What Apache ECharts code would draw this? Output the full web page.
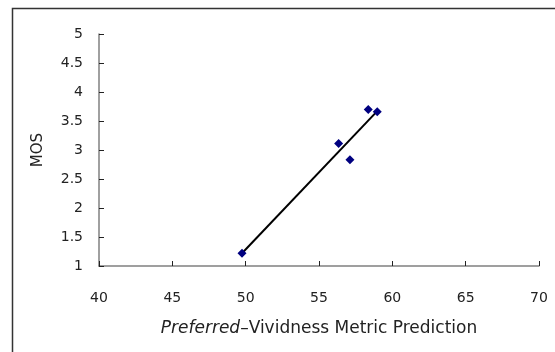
<!DOCTYPE html>
<html>
<head>
<meta charset="utf-8">
<script src="https://cdn.jsdelivr.net/npm/echarts@6/dist/echarts.min.js"></script>
<style>
  html, body { margin: 0; padding: 0; background: #fff; }
  #chart { width: 555px; height: 352px; }
</style>
</head>
<body>
<div id="chart"></div>
<script>
// measured points (metric prediction vs MOS)
const predX = [58.36, 58.97, 56.34, 57.11, 49.75]
const mosY = [3.70, 3.66, 3.11, 2.83, 1.22]
// fitted line ends
const trendX = [49.75, 58.97]
const trendY = [1.22, 3.67]
const xTicks = [40, 45, 50, 55, 60, 65, 70]
const yTicks = [1, 1.5, 2, 2.5, 3, 3.5, 4, 4.5, 5]

const font = 'DejaVu Sans, sans-serif'
const chart = echarts.init(document.getElementById('chart'), null, { renderer: 'canvas' })

const option = {
  animation: false,
  backgroundColor: '#fff',
  graphic: [{
    type: 'rect',
    shape: { x: 12.5, y: 8.5, width: 700, height: 500 },
    style: { fill: 'none', stroke: '#333', lineWidth: 1.5 },
    silent: true
  }],
  grid: { left: 99, right: 16, top: 34, bottom: 86 },
  xAxis: {
    type: 'value',
    min: xTicks[0],
    max: xTicks[xTicks.length - 1],
    interval: 5,
    splitLine: { show: false },
    axisLine: { lineStyle: { color: '#808080', width: 1.5 } },
    axisTick: { inside: true, length: 5, lineStyle: { color: '#222' } },
    axisLabel: { color: '#222', fontSize: 14, fontFamily: font, margin: 25 },
    name: '{i|Preferred}–Vividness Metric Prediction',
    nameLocation: 'middle',
    nameGap: 54,
    nameTextStyle: {
      color: '#222', fontSize: 17, fontFamily: font,
      rich: { i: { fontStyle: 'italic', fontSize: 17, fontFamily: font, color: '#222' } }
    }
  },
  yAxis: {
    type: 'value',
    min: yTicks[0],
    max: yTicks[yTicks.length - 1],
    interval: 0.5,
    splitLine: { show: false },
    axisLine: { show: true, lineStyle: { color: '#808080', width: 1.5 } },
    axisTick: { show: true, inside: true, length: 5, lineStyle: { color: '#222' } },
    axisLabel: { color: '#222', fontSize: 14, fontFamily: font, margin: 16 },
    name: 'MOS',
    nameLocation: 'middle',
    nameGap: 53,
    nameTextStyle: { color: '#222', fontSize: 15, fontFamily: font }
  },
  series: [
    {
      type: 'line',
      data: trendX.map((x, i) => [x, trendY[i]]),
      showSymbol: false,
      lineStyle: { color: '#000', width: 2 },
      z: 2
    },
    {
      type: 'scatter',
      data: predX.map((x, i) => [x, mosY[i]]),
      symbol: 'diamond',
      symbolSize: 9,
      itemStyle: { color: '#000080', opacity: 1 },
      z: 3
    }
  ]
}

chart.setOption(option)
</script>
</body>
</html>
